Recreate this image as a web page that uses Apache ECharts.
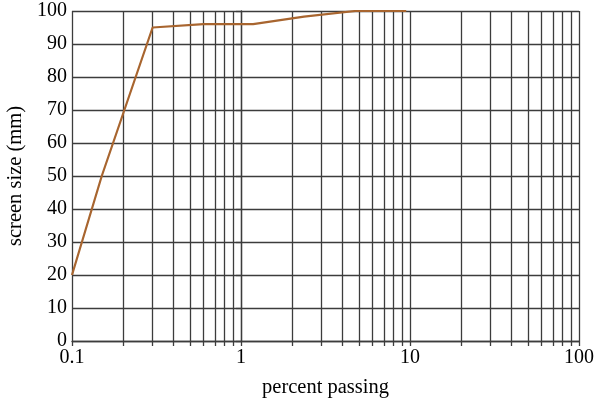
<!DOCTYPE html>
<html>
<head>
<meta charset="utf-8">
<script src="https://cdn.jsdelivr.net/npm/echarts@6/dist/echarts.min.js"></script>
<style>html,body{margin:0;padding:0;background:#fff;}#c{width:596px;height:405px;}</style>
</head>
<body>
<div id="c"></div>
<script>
// percent passing (x, log scale) and screen size (y)
const sieveSizes = [0.1, 0.15, 0.3, 0.6, 1.18, 2.36, 4.75, 9.5];
const screenValues = [20, 50, 95, 96, 96, 98.3, 100, 100];
const xTickValues = [0.1,0.2,0.3,0.4,0.5,0.6,0.7,0.8,0.9,1,2,3,4,5,6,7,8,9,10,20,30,40,50,60,70,80,90,100];
const xLabelValues = [0.1, 1, 10, 100];
const yMin = 0, yMax = 100, yInterval = 10;

const L = v => Math.log10(v);
const font = 'Liberation Serif';
const gridColor = '#3c3c3c';
const chart = echarts.init(document.getElementById('c'), null, {renderer: 'canvas'});
chart.setOption({
  animation: false,
  grid: {left: 72, right: 17, top: 11, bottom: 64, containLabel: false, outerBoundsMode: 'none'},
  xAxis: {
    type: 'value', min: L(0.1), max: L(100),
    name: 'percent passing', nameLocation: 'middle', nameGap: 36,
    nameTextStyle: {fontFamily: font, fontSize: 20.5, color: '#000'},
    axisLine: {show: true, lineStyle: {color: gridColor, width: 1.3}},
    axisTick: {show: true, length: 5, inside: false, customValues: xTickValues.map(L), lineStyle: {color: gridColor, width: 1.3}},
    axisLabel: {customValues: xLabelValues.map(L), fontFamily: font, fontSize: 20, color: '#000', margin: 7,
      formatter: v => { const r = Math.pow(10, v); return String(Number(r.toPrecision(3))); }},
    splitLine: {show: true, lineStyle: {color: gridColor, width: 1.3}}
  },
  yAxis: {
    type: 'value', min: yMin, max: yMax, interval: yInterval,
    name: 'screen size (mm)', nameLocation: 'middle', nameGap: 42,
    nameTextStyle: {fontFamily: font, fontSize: 20.5, color: '#000'},
    axisLine: {show: true, lineStyle: {color: gridColor, width: 1.3}},
    axisTick: {show: true, length: 5, inside: false, lineStyle: {color: gridColor, width: 1.3}},
    axisLabel: {fontFamily: font, fontSize: 20, color: '#000', margin: 5},
    splitLine: {show: true, lineStyle: {color: gridColor, width: 1.3}}
  },
  series: [{
    type: 'line',
    data: sieveSizes.map((s, i) => [L(s), screenValues[i]]),
    symbol: 'none',
    lineStyle: {color: '#a8652f', width: 2.2},
    z: 5
  }]
});
</script>
</body>
</html>
